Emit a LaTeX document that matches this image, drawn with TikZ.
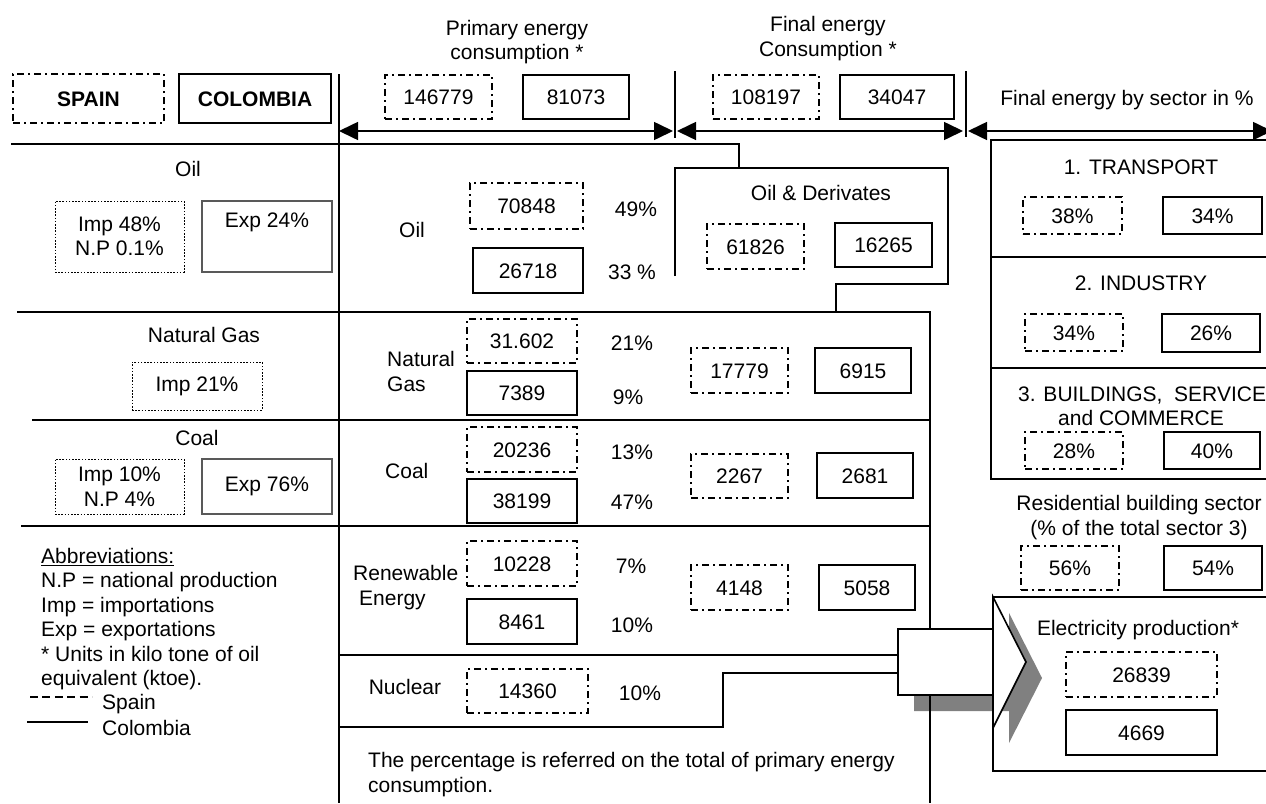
\documentclass[tikz,border=0pt]{standalone}
\usepackage{fontspec}
\setmainfont{Liberation Sans}
\usetikzlibrary{arrows.meta}
\newcommand{\bigf}{\fontsize{21}{24.5}\selectfont}
\begin{document}
\begin{tikzpicture}[x=1pt,y=-1pt,
  font=\bigf,
  grid/.style={line width=1.8pt},
  sz/.style n args={2}{minimum width=#1pt,minimum height=#2pt},
  es/.style={draw, line width=1.4pt, dash pattern=on 7pt off 4pt on 2pt off 4pt,
    inner sep=0pt, text height=20pt, text depth=5pt},
  co/.style={draw, line width=1.6pt, inner sep=0pt, text height=20pt, text depth=5pt},
  imp/.style={draw, line width=0.9pt, dash pattern=on 1.6pt off 1.6pt, inner sep=0pt, align=center},
  expb/.style={draw=black!65, line width=1.1pt, inner sep=0pt, align=center},
  lbl/.style={inner sep=0pt, text height=20pt, text depth=5pt},
  ml/.style={inner sep=0pt, align=center},
  dim/.style={line width=1.6pt, {Triangle[length=19pt,width=18pt]}-{Triangle[length=19pt,width=18pt]}},
]
\clip (0,0) rectangle (1266,803);

% ---------- shadow of the block arrow ----------
\fill[black!50] (914,645) -- (1009,645) -- (1009,613) -- (1042,678) -- (1009,743)
  -- (1009,711) -- (914,711) -- cycle;

% ---------- table rules ----------
\draw[grid] (339,74) -- (339,803);
\draw[grid] (675,71) -- (675,138);
\draw[grid] (966,71) -- (966,137);
\draw[grid] (11,144) -- (739,144) -- (739,168);
\draw[grid] (675,276) -- (675,168) -- (948,168) -- (948,284) -- (836,284) -- (836,312);
\draw[grid] (17,312) -- (930,312) -- (930,629);
\draw[grid] (930,695) -- (930,803);
\draw[grid] (32,420) -- (930,420);
\draw[grid] (21,526) -- (930,526);
\draw[grid] (339,655) -- (898,655);
\draw[grid] (339,727) -- (723,727) -- (723,673) -- (898,673);

% ---------- dimension arrows ----------
\coordinate (pL) at (339,131);
\coordinate (pR) at (673,131);
\coordinate (fL) at (677,131);
\coordinate (fR) at (963,131);
\coordinate (sL) at (968,131);
\coordinate (sR) at (1272,131);
\draw[dim] (pL) -- (pR);
\draw[dim] (fL) -- (fR);
\draw[dim] (sL) -- (sR);

% ---------- header ----------
\node[es, sz={151}{49}, font=\bigf\bfseries] (spain) at (88.5,98.5) {SPAIN};
\node[co, sz={152}{49}, line width=2.2pt, font=\bigf\bfseries] (colombia) at (255,98.5) {COLOMBIA};
\node[ml] (tPrim) at (517,42) {Primary energy\\consumption *};
\node[ml] (tFin) at (828,38.5) {Final energy\\Consumption *};
\node[lbl] (tSec) at (1127,98) {Final energy by sector in \%};
\node[es, sz={107}{44}] (pES) at (438.5,97) {146779};
\node[co, sz={106}{44}] (pCO) at (576,97) {81073};
\node[es, sz={106}{44}] (fES) at (766,97) {108197};
\node[co, sz={114}{44}] (fCO) at (897,97) {34047};

% ---------- left column: trade ----------
\node[lbl] (lOil) at (188,169) {Oil};
\node[imp, sz={129}{71}] (oilImp) at (119.5,236.5) {Imp 48\%\\N.P 0.1\%};
\node[expb, sz={130}{71}] (oilExp) at (267,236.5) {Exp 24\%\\\strut};
\node[lbl] (lGas) at (204,335) {Natural Gas};
\node[imp, sz={130}{48}] (gasImp) at (197,386) {Imp 21\%};
\node[lbl] (lCoal) at (197,438) {Coal};
\node[imp, sz={129}{55}] (coalImp) at (119.5,486.5) {Imp 10\%\\N.P 4\%};
\node[expb, sz={130}{55}] (coalExp) at (267,486.5) {Exp 76\%};

% ---------- legend ----------
\node[inner sep=0pt, align=left, anchor=north west] (abbr) at (41,548)
  {\underline{Abbreviations:}\\N.P = national production\\Imp = importations\\Exp = exportations\\* Units in kilo tone of oil\\equivalent (ktoe).};
\coordinate (dsA) at (30,697);
\coordinate (dsB) at (92,697);
\coordinate (csA) at (27,722);
\coordinate (csB) at (88,722);
\draw[line width=1.2pt, dash pattern=on 8pt off 4.4pt] (dsA) -- (dsB);
\draw[line width=1.2pt] (csA) -- (csB);
\node[lbl, anchor=west] (spainL) at (102,702) {Spain};
\node[lbl, anchor=west] (colL) at (102,728) {Colombia};

% ---------- primary energy column ----------
\node[lbl] (mOil) at (412,230) {Oil};
\node[ml, align=left, anchor=west] (mGas) at (387,371.5) {Natural\\Gas};
\node[lbl, anchor=west] (mCoal) at (385,471) {Coal};
\node[ml, align=left, anchor=west] (mRen) at (353,587.5) {Renewable\\\hspace*{6pt}Energy};
\node[lbl] (mNuc) at (405,687) {Nuclear};

\node[es, sz={113}{46}] (oilES) at (526.5,206) {70848};
\node[co, sz={110}{45}] (oilCO) at (528,270.5) {26718};
\node[es, sz={110}{44}] (gasES) at (522,341) {31.602};
\node[co, sz={110}{44}] (gasCO) at (522,393) {7389};
\node[es, sz={110}{45}] (coalES) at (522,449.5) {20236};
\node[co, sz={110}{44}] (coalCO) at (522,501) {38199};
\node[es, sz={110}{45}] (renES) at (522,563.5) {10228};
\node[co, sz={110}{45}] (renCO) at (522,621.5) {8461};
\node[es, sz={121}{44}] (nucES) at (527.5,691) {14360};

\node[lbl] (pc1) at (636,209) {49\%};
\node[lbl] (pc2) at (632,272) {33 \%};
\node[lbl] (pc3) at (632,343) {21\%};
\node[lbl] (pc4) at (628,397) {9\%};
\node[lbl] (pc5) at (632,452) {13\%};
\node[lbl] (pc6) at (632,502) {47\%};
\node[lbl] (pc7) at (631,566) {7\%};
\node[lbl] (pc8) at (632,625) {10\%};
\node[lbl] (pc9) at (640,693) {10\%};

\node[ml, align=left, anchor=west] (note) at (368,774.5)
  {The percentage is referred on the total of primary energy\\consumption.};

% ---------- final energy column ----------
\node[lbl] (lDer) at (821,193) {Oil \& Derivates};
\node[es, sz={97}{45}] (derES) at (755.5,246.5) {61826};
\node[co, sz={97}{44}] (derCO) at (883.5,245) {16265};
\node[es, sz={97}{45}] (fgES) at (739.5,370.5) {17779};
\node[co, sz={96}{45}] (fgCO) at (863,370.5) {6915};
\node[es, sz={97}{44}] (fcES) at (739.5,476) {2267};
\node[co, sz={96}{45}] (fcCO) at (865,475.5) {2681};
\node[es, sz={97}{45}] (frES) at (739.5,587.5) {4148};
\node[co, sz={96}{45}] (frCO) at (867,587.5) {5058};

% ---------- sectors ----------
\draw[grid] (991,140) rectangle (1280,479);
\draw[grid] (991,257) -- (1280,257);
\draw[grid] (991,368) -- (1280,368);
\node[lbl] (s1) at (1141,167) {1. TRANSPORT};
\node[es, sz={99}{37}] (s1ES) at (1072.5,215.5) {38\%};
\node[co, sz={99}{37}] (s1CO) at (1212.5,215.5) {34\%};
\node[lbl] (s2) at (1141,283) {2. INDUSTRY};
\node[es, sz={98}{37}] (s2ES) at (1074,332.5) {34\%};
\node[co, sz={98}{38}] (s2CO) at (1211,333) {26\%};
\node[lbl, anchor=west] (s3) at (1018,394) {3. BUILDINGS,\ \ SERVICE};
\node[lbl] (s3b) at (1141,418) {and COMMERCE};
\node[es, sz={98}{37}] (s3ES) at (1074,450.5) {28\%};
\node[co, sz={96}{37}] (s3CO) at (1212,450.5) {40\%};

\node[ml] (res) at (1139,517.5) {Residential building sector\\(\% of the total sector 3)};
\node[es, sz={98}{44}] (resES) at (1070,568) {56\%};
\node[co, sz={98}{44}] (resCO) at (1213,568) {54\%};

% ---------- block arrow into electricity production ----------
\draw[line width=1.6pt, fill=white] (898,629) -- (993,629) -- (993,597) -- (1026,662)
  -- (993,728) -- (993,695) -- (898,695) -- cycle;
\draw[grid] (993,597) rectangle (1280,771);
\node[lbl] (el) at (1138,628) {Electricity production*};
\node[es, sz={151}{45}] (elES) at (1141.5,674.5) {26839};
\node[co, sz={151}{45}] (elCO) at (1141.5,732.5) {4669};
\end{tikzpicture}
\end{document}
